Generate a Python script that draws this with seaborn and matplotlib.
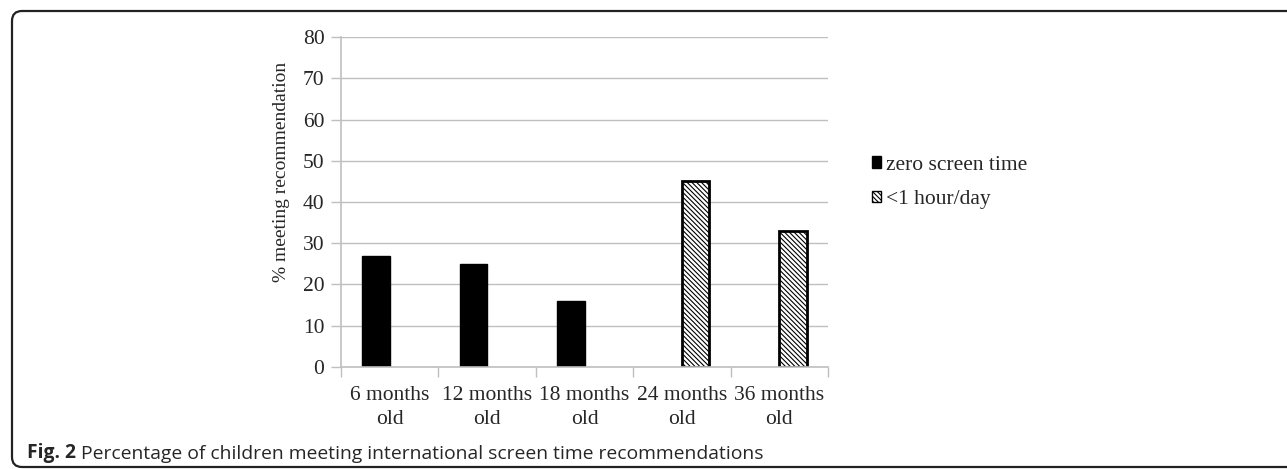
"""Fig. 2 — Percentage of children meeting screen time recommendations."""

import matplotlib

matplotlib.use("Agg")
import matplotlib.pyplot as plt
import pandas as pd
import seaborn as sns
from matplotlib.patches import FancyBboxPatch, Patch
from matplotlib.ticker import FixedLocator

ages = ["6 months\nold", "12 months\nold", "18 months\nold", "24 months\nold", "36 months\nold"]
groups = ["zero screen time", "zero screen time", "zero screen time", "<1 hour/day", "<1 hour/day"]
percent = [27, 25, 16, 45, 33]
series = ["zero screen time", "<1 hour/day"]
y_ticks = [0, 10, 20, 30, 40, 50, 60, 70, 80]
caption_bold = "Fig. 2"
caption_text = "Percentage of children meeting international screen time recommendations"

df = pd.DataFrame({"age": ages, "group": groups, "percent": percent})

sns.set_theme(style="white")
plt.rcParams["font.family"] = ["Liberation Serif", "DejaVu Serif"]
plt.rcParams["hatch.linewidth"] = 0.8

GRID = "#bfbfbf"
HATCH = "\\" * 7
FS = 15.5

fig = plt.figure(figsize=(12.87, 4.69), dpi=100)
ax = fig.add_axes([0.265, 0.2175, 0.3784, 0.7036])

sns.barplot(
    data=df, x="age", y="percent", hue="group",
    order=ages, hue_order=series,
    palette={"zero screen time": "black", "<1 hour/day": "white"},
    width=0.56, gap=0, dodge=True, legend=False, ax=ax,
    edgecolor="black", linewidth=1.0,
)
for bar in ax.containers[1]:
    bar.set_hatch(HATCH)
    bar.set_edgecolor("black")
    bar.set_linewidth(2.0)

ax.set_ylim(0, 80)
ax.set_xlim(-0.5, len(ages) - 0.5)
ax.set_yticks(y_ticks)
ax.yaxis.grid(True, color=GRID, linewidth=1.0)
ax.set_axisbelow(True)
for side in ("top", "right"):
    ax.spines[side].set_visible(False)
for side in ("left", "bottom"):
    ax.spines[side].set_color(GRID)
    ax.spines[side].set_linewidth(1.2)

ax.tick_params(axis="y", which="major", length=7, width=1.0, color=GRID,
               labelsize=FS, pad=5, left=True)
ax.tick_params(axis="x", which="major", length=0, labelsize=FS, pad=14)
ax.xaxis.set_minor_locator(FixedLocator([i - 0.5 for i in range(len(ages) + 1)]))
ax.tick_params(axis="x", which="minor", length=7, width=1.0, color=GRID, bottom=True)
for lbl in ax.get_xticklabels():
    lbl.set_linespacing(1.3)

ax.set_xlabel("")
ax.set_ylabel("% meeting recommendation", fontsize=14)
ax.yaxis.set_label_coords(-0.105, 0.59)

handles = [
    Patch(facecolor="black", edgecolor="black", label=series[0]),
    Patch(facecolor="white", edgecolor="black", hatch=HATCH, label=series[1]),
]
fig.legend(
    handles=handles, loc="center left", bbox_to_anchor=(0.6705, 0.611),
    frameon=False, fontsize=FS, handlelength=0.45, handleheight=0.45,
    handletextpad=0.2, labelspacing=0.7, borderaxespad=0,
)

# rounded frame, open past the right edge
frame = FancyBboxPatch(
    (0.12, 0.02), 14.0, 4.56,
    boxstyle="round,pad=0,rounding_size=0.1",
    transform=fig.dpi_scale_trans, fill=False,
    edgecolor="#222222", linewidth=1.6, clip_on=False,
)
fig.add_artist(frame)

t1 = fig.text(27 / 1287, 1 - 458 / 469, caption_bold, family=["Open Sans", "DejaVu Sans"],
              fontweight="bold", fontsize=13.85, ha="left", va="baseline")
ax.annotate(" " + caption_text, xy=(1, 0), xycoords=t1, va="bottom", ha="left",
            family=["Open Sans", "DejaVu Sans"], fontsize=13.85, annotation_clip=False)

fig.savefig("out.png", dpi=100)
